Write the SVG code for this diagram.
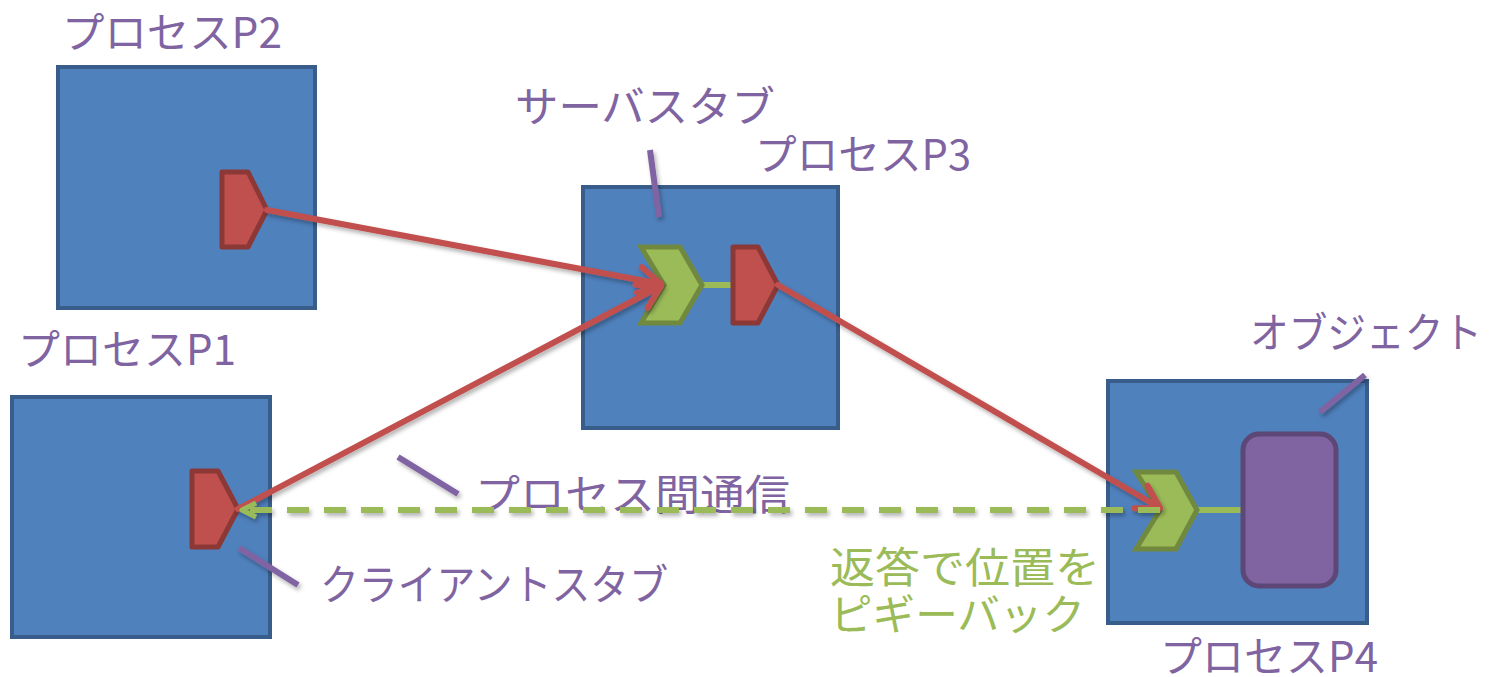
<svg xmlns="http://www.w3.org/2000/svg" width="1498" height="677" viewBox="0 0 1498 677">
<style>
.box{fill:#4F81BD;stroke:#385D8A;stroke-width:4}
.stub{fill:#C0504D;stroke:#8C3836;stroke-width:5;stroke-linejoin:round}
.skel{fill:#9BBB59;stroke:#71893F;stroke-width:5;stroke-linejoin:miter}
.obj{fill:#8064A2;stroke:#5C4776;stroke-width:5}
.lbl{font-family:"Noto Sans CJK JP","Noto Sans",sans-serif;font-size:42px;fill:#8064A2}
.glbl{font-family:"Noto Sans CJK JP","Noto Sans",sans-serif;font-size:42px;fill:#9BBB59}
.red{stroke:#C0504D;stroke-width:6;fill:none;stroke-linecap:round}
.grn{stroke:#9BBB59;stroke-width:6;fill:none}
.pur{stroke:#8064A2;stroke-width:6;fill:none}
</style>
<defs>
<filter id="sh" x="-20%" y="-20%" width="140%" height="140%">
<feDropShadow dx="2" dy="3" stdDeviation="2" flood-color="#000" flood-opacity="0.3"/>
</filter>
<marker id="ar" markerUnits="userSpaceOnUse" markerWidth="40" markerHeight="40" refX="30" refY="20" orient="auto">
<path d="M8,7 L30,20 L8,33" fill="none" stroke="#C0504D" stroke-width="6" stroke-linecap="round" stroke-linejoin="round"/>
</marker>
<marker id="ag" markerUnits="userSpaceOnUse" markerWidth="30" markerHeight="30" refX="22" refY="15" orient="auto">
<path d="M8,8 L22,15 L8,22" fill="none" stroke="#9BBB59" stroke-width="5" stroke-linejoin="round"/>
</marker>
</defs>
<rect width="1498" height="677" fill="#FFFFFF"/>

<g id="p2">
<rect class="box" x="58" y="67" width="257" height="241"/>
<path class="stub" d="M222,172 L248,172 L267,210 L248,247 L222,247 Z"/>
<text class="lbl" x="62" y="48" textLength="220" lengthAdjust="spacingAndGlyphs">プロセスP2</text>
</g>

<g id="p1">
<rect class="box" x="12" y="397" width="258" height="240"/>
<path class="stub" d="M192,471 L218,471 L238,509 L218,547 L192,547 Z"/>
<text class="lbl" x="18" y="365" textLength="218" lengthAdjust="spacingAndGlyphs">プロセスP1</text>
</g>

<g id="p3">
<rect class="box" x="583" y="187" width="255" height="241"/>
<line class="grn" x1="703" y1="285" x2="732" y2="285"/>
<path class="skel" d="M641,247 L680,247 L702,285 L680,323 L641,323 L664,285 Z"/>
<path class="stub" d="M733,247 L758,247 L778,285 L758,323 L733,323 Z"/>
<text class="lbl" x="755" y="170" textLength="216" lengthAdjust="spacingAndGlyphs">プロセスP3</text>
</g>

<g id="p4">
<rect class="box" x="1108" y="381" width="259" height="242"/>
<line class="grn" x1="1197" y1="510" x2="1244" y2="510"/>
<path class="skel" d="M1136,472 L1176,472 L1197,510 L1176,549 L1136,549 L1160,510 Z"/>
<rect class="obj" x="1243" y="434" width="93" height="152" rx="16"/>
<text class="lbl" x="1160" y="672" textLength="218" lengthAdjust="spacingAndGlyphs">プロセスP4</text>
</g>

<g id="labels">
<text class="lbl" x="515" y="122" textLength="260" lengthAdjust="spacingAndGlyphs">サーバスタブ</text>
<text class="lbl" x="1250" y="348" textLength="232" lengthAdjust="spacingAndGlyphs">オブジェクト</text>
<text class="lbl" x="475" y="510" textLength="315" lengthAdjust="spacingAndGlyphs">プロセス間通信</text>
<text class="lbl" x="320" y="600" textLength="348" lengthAdjust="spacingAndGlyphs">クライアントスタブ</text>
<text class="glbl" x="830" y="583" textLength="270" lengthAdjust="spacingAndGlyphs">返答で位置を</text>
<text class="glbl" x="830" y="630" textLength="255" lengthAdjust="spacingAndGlyphs">ピギーバック</text>
</g>

<g id="connectors" filter="url(#sh)">
<line class="red" x1="267" y1="210" x2="661" y2="284" marker-end="url(#ar)"/>
<line class="red" x1="238" y1="509" x2="661" y2="286" marker-end="url(#ar)"/>
<line class="red" x1="778" y1="285" x2="1160" y2="508" marker-end="url(#ar)"/>
<line class="grn" x1="1160" y1="510" x2="242" y2="510" stroke-dasharray="22 15" stroke-width="5" marker-end="url(#ag)"/>
<line class="pur" x1="650" y1="150" x2="659" y2="217"/>
<line class="pur" x1="1365" y1="375" x2="1320" y2="412"/>
<line class="pur" x1="398" y1="457" x2="458" y2="494"/>
<line class="pur" x1="239" y1="548" x2="298" y2="585"/>
</g>
</svg>
